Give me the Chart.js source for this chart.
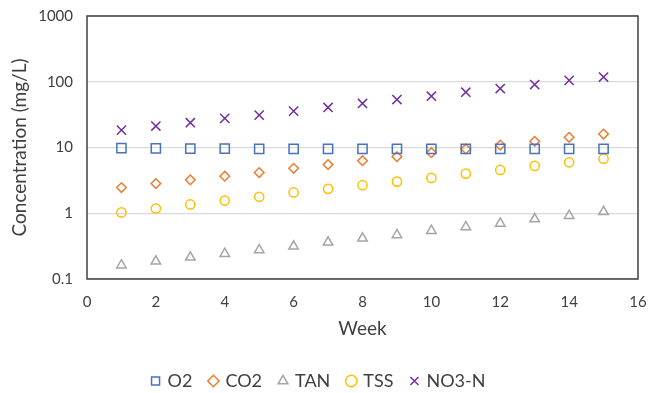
<!DOCTYPE html>
<html>
<head>
<meta charset="utf-8">
<script src="https://cdn.jsdelivr.net/npm/chart.js@4"></script>
<style>
  html, body { margin: 0; padding: 0; background: #fff; }
  #wrap { width: 649px; height: 393px; }
</style>
</head>
<body>
<div id="wrap"><canvas id="grafico" width="649" height="393"></canvas></div>
<script>
const weeks = [1, 2, 3, 4, 5, 6, 7, 8, 9, 10, 11, 12, 13, 14, 15];
const o2 = [9.8, 9.7, 9.6, 9.6, 9.5, 9.5, 9.5, 9.5, 9.5, 9.5, 9.5, 9.5, 9.5, 9.5, 9.5];
const co2 = [2.46, 2.83, 3.22, 3.66, 4.16, 4.83, 5.49, 6.3, 7.26, 8.34, 9.5, 10.9, 12.4, 14.3, 16.0];
const tan = [0.162, 0.186, 0.214, 0.243, 0.277, 0.314, 0.361, 0.415, 0.468, 0.543, 0.618, 0.70, 0.817, 0.917, 1.05];
const tss = [1.03, 1.18, 1.36, 1.56, 1.78, 2.07, 2.35, 2.67, 3.03, 3.45, 4.01, 4.56, 5.25, 5.96, 6.76];
const no3n = [18.4, 21.2, 23.8, 27.7, 31.1, 35.7, 40.6, 46.7, 53.7, 60.3, 69.3, 78.9, 90.7, 105, 118];
const yTicks = [0.1, 1, 10, 100, 1000];
const xTicks = [0, 2, 4, 6, 8, 10, 12, 14, 16];

const fonte = "'Lato', 'Open Sans', sans-serif";

function pontos(valores) {
    return weeks.map((w, i) => ({ x: w, y: valores[i] }));
}

function serie(label, valores, cor, estilo, raio) {
    return {
        label: label,
        data: pontos(valores),
        borderColor: cor,
        backgroundColor: 'rgba(0,0,0,0)',
        pointStyle: estilo,
        pointRadius: raio,
        pointHoverRadius: raio,
        pointBorderWidth: 1.5,
        showLine: false
    };
}

// moldura escura em volta da area do grafico
const moldura = {
    id: 'moldura',
    afterDraw(chart) {
        const a = chart.chartArea;
        const ctx = chart.ctx;
        ctx.save();
        ctx.strokeStyle = '#404040';
        ctx.lineWidth = 1.5;
        ctx.strokeRect(a.left, a.top, a.right - a.left, a.bottom - a.top);
        ctx.restore();
    }
};

new Chart(document.getElementById('grafico').getContext('2d'), {
    type: 'scatter',
    data: {
        datasets: [
            serie('O2', o2, '#4472C4', 'rect', 6.5),
            serie('CO2', co2, '#ED7D31', 'rectRot', 4.8),
            serie('TAN', tan, '#A5A5A5', 'triangle', 5.5),
            serie('TSS', tss, '#FFC000', 'circle', 4.6),
            serie('NO3-N', no3n, '#7030A0', 'crossRot', 6.5)
        ]
    },
    options: {
        responsive: false,
        animation: false,
        layout: { padding: { left: 0, right: 11, top: 16, bottom: -7 } },
        plugins: {
            legend: {
                position: 'bottom',
                labels: {
                    usePointStyle: true,
                    boxHeight: 8,
                    boxWidth: 6,
                    padding: 18,
                    color: '#404040',
                    font: { family: fonte, size: 18 }
                }
            },
            tooltip: { enabled: false }
        },
        scales: {
            x: {
                type: 'linear',
                min: 0,
                max: 16,
                afterBuildTicks: (s) => { s.ticks = xTicks.map(v => ({ value: v })); },
                afterFit: (s) => { s.height = 75; s.paddingLeft = 0; s.paddingRight = 0; },
                ticks: { color: '#404040', padding: 6, font: { family: fonte, size: 15 } },
                grid: { display: false },
                border: { display: false },
                title: {
                    display: true,
                    text: 'Week',
                    color: '#404040',
                    padding: { top: 4, bottom: 13.5 },
                    font: { family: fonte, size: 19 }
                }
            },
            y: {
                type: 'logarithmic',
                min: 0.1,
                max: 1000,
                afterBuildTicks: (s) => { s.ticks = yTicks.map(v => ({ value: v })); },
                afterFit: (s) => { s.width = 87; s.paddingTop = 0; s.paddingBottom = 0; },
                ticks: {
                    color: '#404040',
                    padding: 14,
                    font: { family: fonte, size: 15 },
                    callback: (v) => String(v)
                },
                grid: { color: '#D9D9D9', lineWidth: 1.3, drawTicks: false },
                border: { display: false },
                title: {
                    display: true,
                    text: 'Concentration (mg/L)',
                    color: '#404040',
                    padding: { top: 8, bottom: 4 },
                    font: { family: fonte, size: 19 }
                }
            }
        }
    },
    plugins: [moldura]
});
</script>
</body>
</html>
